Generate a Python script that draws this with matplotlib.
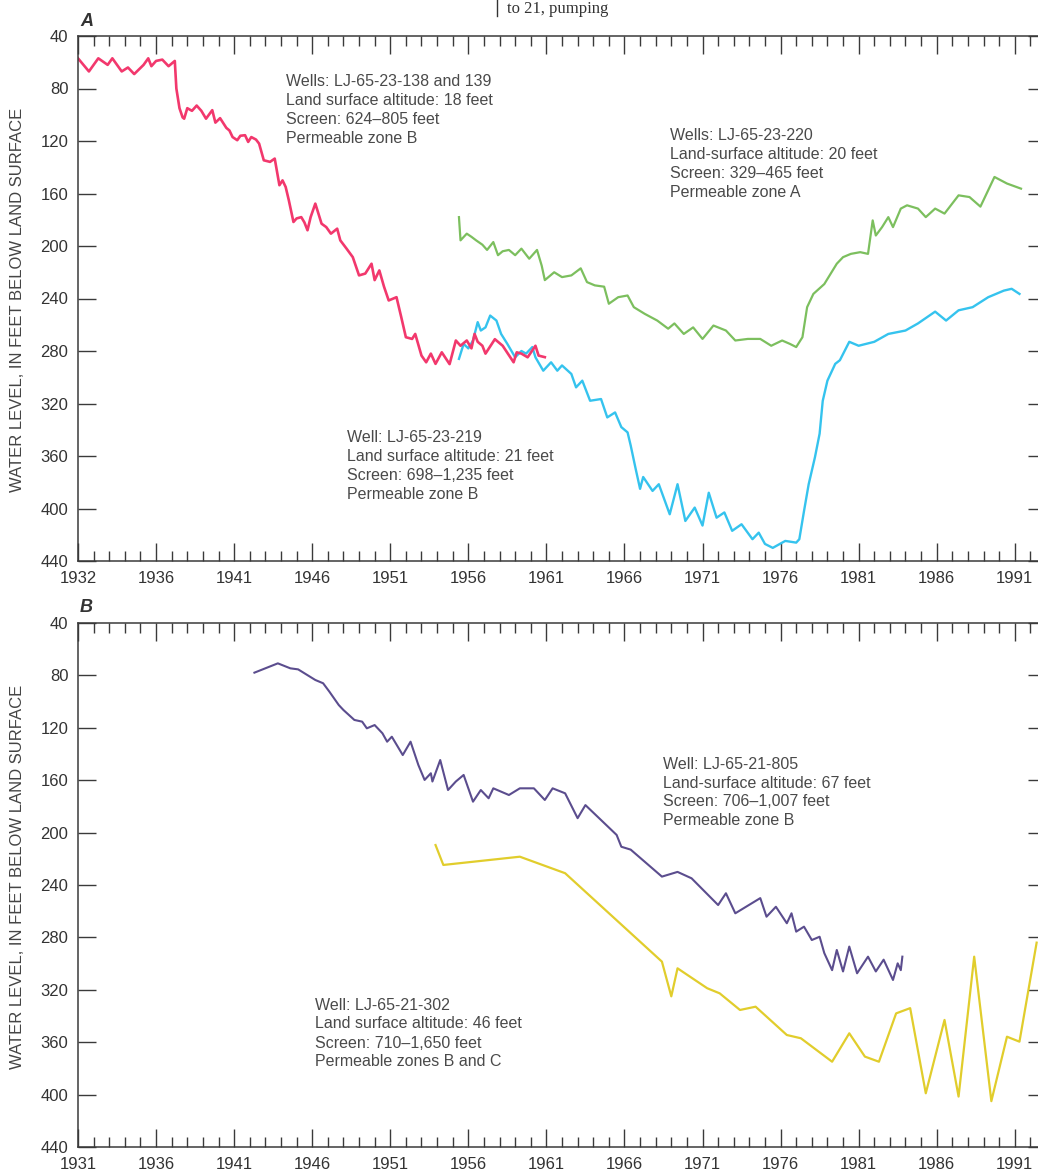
import matplotlib
matplotlib.use("Agg")
import matplotlib.pyplot as plt
from matplotlib.ticker import MultipleLocator, FixedLocator

plt.rcParams['font.family'] = ['Liberation Sans', 'DejaVu Sans']

# ---- Panel A: wells near LJ-65-23 ----
pink_year = [1931.0, 1931.7, 1932.3, 1932.9, 1933.2, 1933.8, 1934.2, 1934.6, 1935.2, 1935.5,
             1935.7, 1936.0, 1936.4, 1936.8, 1937.2, 1937.3, 1937.5, 1937.7, 1937.8, 1938.0,
             1938.3, 1938.6, 1938.9, 1939.2, 1939.6, 1939.8, 1940.1, 1940.5, 1940.7, 1940.9,
             1941.2, 1941.4, 1941.7, 1941.9, 1942.1, 1942.4, 1942.6, 1942.9, 1943.3, 1943.6,
             1943.9, 1944.1, 1944.3, 1944.5, 1944.8, 1945.0, 1945.3, 1945.5, 1945.7, 1945.9,
             1946.2, 1946.6, 1946.9, 1947.2, 1947.6, 1947.8, 1948.2, 1948.6, 1949.0, 1949.4,
             1949.8, 1950.0, 1950.3, 1950.6, 1950.9, 1951.4, 1951.7, 1952.0, 1952.4, 1952.6,
             1953.0, 1953.3, 1953.6, 1953.9, 1954.3, 1954.8, 1955.2, 1955.5, 1955.9, 1956.2,
             1956.4, 1956.6, 1956.9, 1957.1, 1957.7, 1958.2, 1958.9, 1959.1, 1959.4, 1959.8,
             1960.3, 1960.5, 1960.9]
pink_level = [57, 67, 57, 62, 57, 67, 64, 69, 62, 57,
              63, 59, 58, 63, 59, 80, 95, 102, 103, 95,
              97, 93, 97, 103, 96.5, 106, 102.6, 110, 112, 117,
              119.4, 116, 115.6, 120.7, 117, 118.9, 122, 134.7, 135.9, 133.4,
              153.7, 150, 155, 165, 181.7, 179, 178, 182, 188, 178,
              167.7, 183, 185.6, 190.6, 186.8, 195.7, 202, 208.5, 222.4, 221,
              213.5, 226, 218.6, 231, 241.5, 239, 254, 269.5, 270.8, 267,
              283.5, 288.6, 282, 289.8, 281, 290, 272, 276, 272, 278,
              267, 273, 276, 282, 271, 276, 288.6, 281, 282, 284.8,
              276, 283.5, 284.7]

cyan_year = [1955.4, 1955.7, 1956.0, 1956.3, 1956.6, 1956.8, 1957.1, 1957.4, 1957.8, 1958.1,
             1958.5, 1959.0, 1959.4, 1959.7, 1960.1, 1960.3, 1960.8, 1961.3, 1961.7, 1962.0,
             1962.6, 1962.9, 1963.3, 1963.8, 1964.5, 1964.9, 1965.4, 1965.8, 1966.2, 1966.4,
             1966.7, 1967.0, 1967.2, 1967.8, 1968.2, 1968.9, 1969.4, 1969.9, 1970.5, 1971.0,
             1971.4, 1971.9, 1972.4, 1972.9, 1973.5, 1974.2, 1974.6, 1975.0, 1975.5, 1976.3,
             1977.0, 1977.2, 1977.5, 1977.8, 1978.2, 1978.5, 1978.7, 1979.0, 1979.5, 1979.8,
             1980.4, 1981.0, 1982.0, 1982.9, 1984.0, 1984.8, 1985.9, 1986.6, 1987.4, 1988.3,
             1989.3, 1990.3, 1990.8, 1991.3]
cyan_level = [286, 274.6, 278, 272, 258, 264.4, 262, 253, 256.8, 267,
              274.6, 284.8, 280, 282, 277, 284.8, 295, 288.6, 295, 291,
              297.5, 307.7, 302.6, 317.9, 316.6, 330.6, 326.8, 338, 342, 352,
              368.8, 385, 376, 386.6, 381.5, 404.4, 381.5, 409.5, 399.3, 413,
              388, 407, 403, 417, 412, 423.4, 418.4, 427, 430, 424.7,
              426, 423.4, 402, 381.5, 361, 343, 318, 302.6, 289.8, 287,
              273, 276, 273, 267, 264.4, 259, 250, 256.8, 249, 246.6,
              239, 234, 232.6, 236.5]

green_year = [1955.4, 1955.5, 1955.9, 1956.2, 1956.5, 1956.9, 1957.2, 1957.6, 1957.9, 1958.2,
              1958.6, 1959.0, 1959.4, 1959.9, 1960.4, 1960.7, 1960.9, 1961.5, 1962.0, 1962.6,
              1963.2, 1963.6, 1964.1, 1964.7, 1965.0, 1965.6, 1966.2, 1966.6, 1967.3, 1968.1,
              1968.8, 1969.2, 1969.8, 1970.4, 1971.0, 1971.7, 1972.5, 1973.1, 1973.9, 1974.7,
              1975.4, 1976.1, 1976.6, 1977.0, 1977.4, 1977.7, 1978.1, 1978.8, 1979.6, 1980.0,
              1980.5, 1981.1, 1981.6, 1981.9, 1982.1, 1982.5, 1982.9, 1983.2, 1983.7, 1984.1,
              1984.8, 1985.3, 1985.9, 1986.5, 1987.4, 1988.1, 1988.8, 1989.7, 1990.5, 1991.4]
green_level = [178, 195.7, 190.6, 193, 195.7, 199, 203, 197, 207, 204,
               203, 207, 202, 209.7, 203, 215, 226, 220, 223.7, 222.4,
               217, 227.5, 230, 231, 244, 239, 237.7, 246.6, 251.7, 256.8,
               263, 259, 267, 262, 270.8, 260.6, 264.4, 272, 270.8, 270.8,
               276, 272, 274.6, 277, 269.5, 246.6, 236.5, 229, 213.5, 208.5,
               206, 204.7, 206, 180.5, 192, 185.6, 178, 185.6, 171.5, 169,
               171.5, 178, 171.5, 175.3, 161.4, 162.7, 170, 147.4, 152.4, 156.3]

# ---- Panel B: wells LJ-65-21 ----
purple_year = [1942.3, 1943.8, 1944.6, 1945.1, 1946.2, 1946.7, 1947.1, 1947.7, 1948.0, 1948.7,
               1949.2, 1949.5, 1950.0, 1950.5, 1950.8, 1951.1, 1951.8, 1952.3, 1952.8, 1953.2,
               1953.6, 1953.7, 1954.2, 1954.7, 1955.2, 1955.7, 1956.3, 1956.8, 1957.3, 1957.6,
               1958.6, 1959.3, 1960.2, 1960.9, 1961.4, 1962.2, 1963.0, 1963.5, 1964.5, 1965.5,
               1965.8, 1966.4, 1968.4, 1969.4, 1970.3, 1972.0, 1972.5, 1973.1, 1974.7, 1975.1,
               1975.7, 1976.4, 1976.7, 1977.0, 1977.5, 1978.0, 1978.5, 1978.8, 1979.3, 1979.6,
               1980.0, 1980.4, 1980.9, 1981.6, 1982.1, 1982.6, 1983.2, 1983.5, 1983.7, 1983.8]
purple_level = [77.9, 70.8, 74.6, 75.4, 83.5, 86, 92.4, 102.6, 106.4, 114,
                115.3, 120.4, 117.9, 124.2, 130.6, 126.8, 140.8, 130.6, 148.4, 159.8,
                154.7, 161, 144.6, 167.5, 161, 156, 176.4, 167.5, 173.8, 166.2,
                171.3, 166.2, 166.2, 175.1, 166.2, 170, 189, 179, 190.4, 201.8,
                210.8, 213, 233.6, 230, 234.9, 255.3, 246.3, 261.6, 250, 264.2,
                256.6, 269.2, 261.6, 275.6, 271.8, 282, 279.5, 292, 305, 289.6,
                306, 287, 307.4, 294.7, 306, 297, 312.5, 299.8, 305, 294.7]

yellow_year = [1953.9, 1954.4, 1959.3, 1962.2, 1968.4, 1969.0, 1969.4, 1971.3, 1972.1, 1973.4,
               1974.4, 1976.4, 1977.3, 1979.3, 1980.4, 1981.4, 1982.3, 1983.4, 1984.3, 1985.3,
               1986.5, 1987.4, 1988.4, 1989.5, 1990.5, 1991.3, 1992.4]
yellow_level = [209.5, 224.7, 218.4, 231, 298.5, 325, 303.6, 318.8, 322.7, 335.4,
                332.9, 354.5, 357, 374.9, 353.2, 371, 374.9, 338, 334, 399,
                343, 401.5, 294.7, 405, 355.8, 359.6, 284]

# ---- Tick labels ----
major_years = [1931, 1936, 1941, 1946, 1951, 1956, 1961, 1966, 1971, 1976, 1981, 1986, 1991]
labels_a = ['1932', '1936', '1941', '1946', '1951', '1956', '1961', '1966', '1971', '1976',
            '1981', '1986', '1991']
labels_b = ['1931', '1936', '1941', '1946', '1951', '1956', '1961', '1966', '1971', '1976',
            '1981', '1986', '1991']
level_ticks = [40, 80, 120, 160, 200, 240, 280, 320, 360, 400, 440]

notes_a = [
    (1944.3, [81, 100, 119, 138], ["Wells: LJ-65-23-138 and 139", "Land surface altitude: 18 feet",
                                   "Screen: 624\u2013805 feet", "Permeable zone B"]),
    (1968.9, [135, 154, 173, 192], ["Wells: LJ-65-23-220", "Land-surface altitude: 20 feet",
                                    "Screen: 329\u2013465 feet", "Permeable zone A"]),
    (1948.2, [437, 456, 475, 494], ["Well: LJ-65-23-219", "Land surface altitude: 21 feet",
                                    "Screen: 698\u20131,235 feet", "Permeable zone B"]),
]
notes_b = [
    (1968.5, [765, 784, 802, 821], ["Well: LJ-65-21-805", "Land-surface altitude: 67 feet",
                                    "Screen: 706\u20131,007 feet", "Permeable zone B"]),
    (1946.2, [1005, 1024, 1043, 1062], ["Well: LJ-65-21-302", "Land surface altitude: 46 feet",
                                        "Screen: 710\u20131,650 feet", "Permeable zones B and C"]),
]

W, H = 1038, 1172
fig = plt.figure(figsize=(W / 100, H / 100), dpi=100)
fig.patch.set_facecolor('white')

left_px, right_px = 78, 1046
ax_a = fig.add_axes([left_px / W, 1 - 561 / H, (right_px - left_px) / W, (561 - 36) / H])
ax_b = fig.add_axes([left_px / W, 1 - 1147 / H, (right_px - left_px) / W, (1147 - 623) / H])

axis_color = '#3a3a3a'
text_color = '#4a4a4a'


def style_axis(ax, labels):
    ax.set_xlim(1931, 1993)
    ax.set_ylim(440, 40)
    ax.xaxis.set_major_locator(FixedLocator(major_years))
    ax.set_xticklabels(labels)
    ax.xaxis.set_minor_locator(MultipleLocator(1))
    ax.yaxis.set_major_locator(FixedLocator(level_ticks))
    ax.tick_params(which='both', direction='in', top=True, right=True, color=axis_color,
                   labelcolor='#333333', labelsize=12)
    ax.tick_params(which='major', length=13, width=1.0)
    ax.tick_params(which='minor', length=7, width=1.0)
    ax.tick_params(axis='x', pad=7)
    ax.tick_params(axis='y', pad=7)
    for s in ax.spines.values():
        s.set_color(axis_color)
        s.set_linewidth(1.1)


def y_from_px(px, top_px):
    return 40 + (px - top_px) * 400.0 / 524.0


style_axis(ax_a, labels_a)
style_axis(ax_b, labels_b)

ax_a.plot(green_year, green_level, color='#7cbf5e', lw=1.6)
ax_a.plot(cyan_year, cyan_level, color='#35c3ee', lw=1.7)
ax_a.plot(pink_year, pink_level, color='#f2386d', lw=1.9)

ax_b.plot(purple_year, purple_level, color='#5b4d8e', lw=1.5)
ax_b.plot(yellow_year, yellow_level, color='#e1cd2c', lw=1.6)

for ax, notes, top in ((ax_a, notes_a, 36), (ax_b, notes_b, 623)):
    for x0, ys, lines in notes:
        for ypx, line in zip(ys, lines):
            ax.text(x0, y_from_px(ypx, top), line, fontsize=11.5, color=text_color,
                    ha='left', va='center')

# panel letters
fig.text(80 / W, 1 - 22 / H, 'A', fontsize=13, fontweight='bold', fontstyle='italic',
         color='#333333', ha='left', va='center')
fig.text(80 / W, 1 - 607 / H, 'B', fontsize=13, fontweight='bold', fontstyle='italic',
         color='#333333', ha='left', va='center')

# axis titles
for yc in (300, 877):
    fig.text(18 / W, 1 - yc / H, 'WATER LEVEL, IN FEET BELOW LAND SURFACE', rotation=90,
             fontsize=12, color='#444444', ha='center', va='center')

# running page text at the top edge
fig.text(507 / W, 1 - 1 / H, 'to 21, pumping', fontsize=12, color='#333333',
         family='Liberation Serif', ha='left', va='top')
fig.add_artist(plt.Line2D([497 / W, 497 / W], [1, 1 - 16 / H], color='#333333', lw=1.0))

fig.savefig('out.png', dpi=100)
